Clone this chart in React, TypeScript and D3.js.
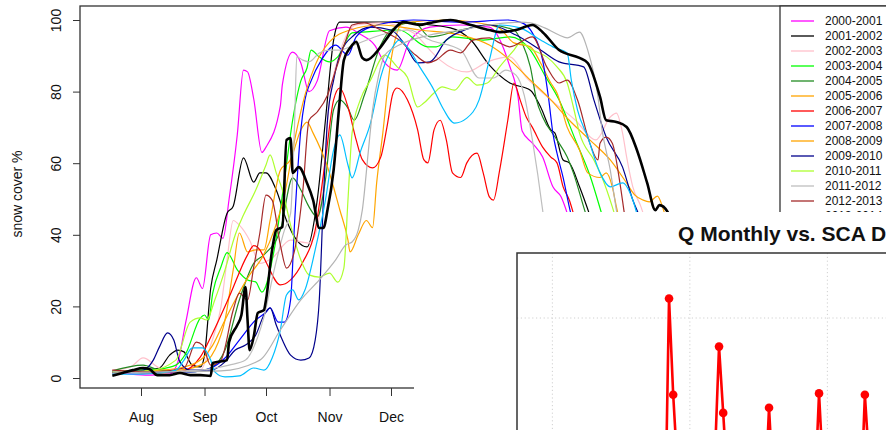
import React, { useEffect, useRef } from "react";
import * as d3 from "d3";

// legend entries (one per season)
const seasons = [
  "2000-2001", "2001-2002", "2002-2003", "2003-2004", "2004-2005",
  "2005-2006", "2006-2007", "2007-2008", "2008-2009", "2009-2010",
  "2010-2011", "2011-2012", "2012-2013", "2013-2014", "2014-2015", "2015-2016",
];
const seasonColors = [
  "#FF00FF", "#000000", "#FFC0CB", "#00FF00", "#228B22",
  "#FFA500", "#FF0000", "#0000FF", "#FFA500", "#00008B",
  "#ADFF2F", "#BEBEBE", "#A52A2A", "#00BFFF", "#B4B4B4", "#000000",
];
// only the first rows of the legend are visible above the inset
const legendRows = 14;

// snow cover %, [days since 1 Aug, value]
const sc2000 = [[-14,1.7],[-5,1.1],[4,0.8],[14,1.1],[18,4.5],[22,16],[27,28],[30,25],[34,40],[37,40.5],[40,39],[43,50],[47,68],[50,86],[52,85.5],[55,78],[59,63],[61,64.5],[68,76],[69,82],[74,91],[78,88],[82,80],[86,83],[92,97],[100,98],[107,96],[114,93],[119,88],[125,86],[131,94],[141,98],[156,98.6],[170,98],[180,87],[184,78.5],[186,69],[191,65.6],[196,61.7],[201,53.4],[205,50.6],[208,46],[214,33],[224,10.6],[234,2]];
const sc2001 = [[-14,1.7],[0,2.2],[9,2.8],[14,6.4],[18,7.8],[21,7.3],[25,3.6],[29,3.1],[31,6.4],[34,25],[37,33],[42,46],[45,48],[50,61.5],[55,54.7],[58,57.3],[61,57.3],[66,52.5],[71,44],[76,38.5],[81,36.6],[86,49.7],[90,72],[94,94.4],[97,99.4],[107,99.4],[122,99.4],[136,98.9],[151,97.8],[161,94.4],[170,87.4],[180,82.4],[190,80.4],[195,75.7],[200,69.3],[202,68.4],[206,60.9],[209,60.1],[214,53.4],[219,45.5],[229,27.4],[239,7.8],[248,1.7]];
const sc2002 = [[-14,2.2],[-5,3.1],[1,5.6],[9,2.8],[19,1.7],[29,2.2],[34,9.2],[39,19.8],[42,33],[45,44],[48,42.7],[53,38.5],[58,32],[64,33.5],[73,38.5],[82,37.7],[85,40],[88,49.7],[92,77.7],[97,90.8],[105,98.6],[117,99.2],[133,96.4],[141,91.6],[146,88.8],[159,85.5],[169,88.3],[180,89.7],[188,84],[200,77.7],[212,72],[222,66.5],[229,72.9],[232,74],[235,68.4],[237,61.7],[240,53.4],[244,47.8],[251,33],[258,13.4],[268,2.2]];
const sc2003 = [[-14,1.7],[0,2.2],[9,2.5],[17,3.6],[22,7],[29,16.8],[31,17.6],[33,16.2],[35,23.7],[39,31],[42,35],[47,30.2],[52,27.4],[56,26.8],[59,24],[65,35.8],[70,55.3],[74,72],[78,83],[81,86.6],[83,91.6],[87,89.7],[92,88.3],[96,89.7],[103,96.4],[108,96.6],[126,97.2],[140,92.5],[144,92.5],[152,95.3],[167,94.4],[180,95.3],[190,91.6],[197,84.6],[204,77.7],[212,66.5],[219,56.7],[225,45.5],[234,27.4],[244,7.8],[253,1.7]];
const sc2004 = [[-14,2],[1,3.6],[9,2.2],[24,1.7],[34,2.8],[41,7.8],[48,21.8],[55,32],[60,34.4],[68,41.3],[74,55.9],[78,52.5],[82,47.8],[86,45],[90,55.3],[94,75],[97,77.7],[101,75.4],[104,72],[109,79],[117,93],[122,97.2],[133,99.4],[141,95.3],[156,97.2],[170,98.6],[182,97.2],[186,93.6],[190,86.9],[193,77.7],[196,72.9],[203,66.5],[208,61.7],[211,57.3],[216,47.8],[224,33],[234,13.4],[244,2.2]];
const sc2005 = [[-14,1.4],[4,1.7],[19,2.2],[29,3.6],[36,7.8],[41,16.2],[45,30.2],[48,40.5],[52,35.2],[56,35.8],[60,35.8],[63,44],[68,58],[73,61],[78,69.3],[81,71.5],[84,68.4],[91,59],[97,47],[101,38.5],[102,35.2],[106,40],[110,44],[113,42],[115,54.5],[118,68.4],[122,88.8],[128,99.2],[149,100],[174,98],[182,93.6],[190,92.5],[195,88],[200,82.4],[203,79.6],[208,70],[214,63.7],[218,57.3],[224,56],[227,57.3],[230,53.4],[232,47.8],[236,38.5],[244,21.8],[253,5]];
const sc2006 = [[-14,1.7],[4,1.4],[19,1.7],[29,5.9],[35,12.6],[43,22.6],[52,34.4],[55,37],[58,35.8],[61,32.4],[68,26],[73,27.4],[79,32.4],[85,41.3],[90,61],[94,77.7],[97,81],[101,75.7],[105,66.5],[108,61],[113,58.7],[117,61.7],[120,70],[123,79.6],[125,81],[130,77.7],[135,69.3],[138,61],[140,60.1],[143,69.3],[146,72],[149,66.5],[152,57.3],[156,56],[159,60.1],[164,62.8],[167,57.3],[170,50.6],[172,49.7],[175,58],[179,72],[182,82.4],[185,77.7],[188,72.9],[191,70],[196,64.5],[200,61.7],[203,60.1],[206,53.4],[209,49.7],[211,46],[217,33],[224,13.4],[234,2.2]];
const sc2007 = [[-14,1.4],[4,1.7],[24,1.7],[34,2.8],[41,5.6],[48,10.6],[56,16.2],[61,18.4],[63,19.6],[67,15.6],[70,15.6],[73,21.8],[75,44],[78,69.3],[80,77.7],[83,83],[88,88.8],[95,93],[101,90.2],[105,95.3],[112,98],[133,100],[156,99.4],[179,100],[186,99.2],[191,96.4],[196,88.8],[199,77.7],[201,68.4],[203,62.8],[206,56],[209,47.8],[214,35.8],[222,16.2],[229,3.6]];
const sc2008 = [[-14,1.7],[4,2],[19,2.8],[29,5],[35,9.2],[41,16.2],[46,21.8],[53,28.8],[59,33.5],[65,41.3],[70,51.1],[75,66.5],[80,79],[85,87.4],[92,93.9],[102,97.2],[117,98.6],[136,97.2],[156,95.8],[170,93],[180,88.8],[190,83.2],[200,77.7],[209,72],[219,66.5],[229,60.9],[236,55.3],[241,51.1],[245,49.7],[248,49.2],[252,50.8],[255,46.9],[261,33],[268,13.4],[278,2.2]];
const sc2009 = [[-14,1.7],[0,2],[6,5],[9,8.7],[13,12.6],[16,10.6],[19,4.5],[24,2.2],[34,2.2],[41,4.5],[46,7.8],[51,9.2],[56,12],[60,17.6],[63,19.6],[66,14.8],[69,10.6],[73,6.4],[78,5],[82,5.6],[85,10.6],[87,21.8],[89,49.7],[91,72],[94,83.2],[97,90.2],[104,95.8],[112,98],[122,97.2],[129,93],[135,88],[141,88.3],[149,94.4],[158,97.2],[170,98.6],[183,95.8],[195,91.6],[204,88.3],[216,86.9],[221,77.7],[227,67.3],[235,58.9],[240,49.7],[244,44],[251,27.4],[258,10.6],[268,1.7]];
const sc2010 = [[-14,1.7],[4,2],[17,5],[24,15.6],[29,16.8],[32,16.2],[36,21.8],[41,30.2],[46,40],[50,45.5],[56,52.5],[61,59.5],[63,62.3],[66,57.3],[69,52.5],[73,42.7],[78,33],[82,28.8],[87,28.2],[92,29.3],[96,26.8],[99,30.7],[101,49.7],[103,68.4],[107,77.7],[112,83.2],[119,90.2],[125,86.9],[130,84],[135,75.7],[138,76.8],[143,79.6],[147,81.3],[153,80.4],[159,84],[164,81.8],[169,82.4],[175,86.9],[182,91.6],[185,93.6],[191,91.6],[198,89.7],[203,86.9],[208,82.4],[211,75.7],[214,68.4],[221,60.9],[225,56],[230,47.8],[236,35.8],[244,19],[253,3.6]];
const sc2011 = [[-14,2],[4,1.7],[29,2.2],[43,3.6],[51,5],[57,11.5],[60,17],[65,30.2],[70,41.3],[73,46],[75,72],[76,89.7],[79,88.8],[82,88.3],[87,90.8],[92,91.6],[97,91.6],[104,93],[117,95.8],[131,97.2],[141,94.4],[156,91.6],[165,83.8],[172,83.8],[178,86],[183,84.6],[187,79],[191,66.5],[196,46.9],[200,27.4],[204,10.6],[212,1.7]];
const sc2012 = [[-14,2.2],[4,1.7],[21,2.8],[27,10],[30,9.2],[34,3.6],[39,5],[45,19],[48,23.7],[52,21.8],[55,31],[58,40.5],[61,51.1],[64,49.7],[68,37.2],[71,30.7],[75,35.8],[79,52.5],[82,72],[86,74.3],[91,79],[95,86],[100,94.4],[103,98.6],[109,99.2],[117,97.2],[126,94.4],[134,90.2],[140,88],[144,88.8],[151,91.6],[156,90.8],[162,94.4],[170,95],[175,93.6],[180,92.5],[191,95.3],[198,86.9],[204,82.4],[208,83.2],[213,77.7],[219,65.6],[223,60.9],[224,65.6],[227,67.3],[230,65.6],[234,53.4],[236,45.5],[244,24.6],[253,5]];
const sc2013 = [[-14,1.1],[0,1.1],[9,1.4],[17,2.2],[21,5],[25,8.4],[30,8.4],[34,5],[36,1.7],[41,0.3],[48,0.6],[55,2.8],[60,2.2],[64,5.6],[68,13.4],[71,23.2],[74,24.6],[77,21.8],[80,24.6],[85,35.8],[90,49.7],[94,63.7],[97,67.9],[101,59.5],[103,55.9],[107,63.1],[112,71.2],[117,84.1],[122,91.6],[126,94.4],[131,91.6],[136,86.9],[143,80.4],[147,75.7],[153,71.2],[159,72.6],[165,77.7],[170,88.8],[175,98.6],[185,97.8],[195,94.4],[201,92.5],[208,90.8],[210,83.2],[213,74.9],[218,67.3],[224,57.3],[229,53.4],[235,54.5],[240,49.7],[244,41.3],[251,21.8],[258,5]];
const sc2014 = [[-14,1.4],[9,1.7],[39,2],[58,5],[68,13.4],[78,21.8],[87,27.4],[95,33],[100,37.2],[103,38],[106,41.3],[108,46.9],[111,63.7],[113,74.9],[116,84.6],[119,90.2],[126,93],[141,95.8],[156,97.2],[170,98.6],[185,99.4],[190,99.2],[197,97.8],[204,95.8],[208,95],[214,96.6],[218,91.6],[223,78.5],[225,69.3],[229,58.1],[232,46.9],[236,35.8],[244,16.2],[253,2.2]];
const sc2015 = [[-14,0.6],[-9,1.4],[-4,2.2],[1,2.8],[4,2.5],[8,0.8],[14,0.8],[19,1.4],[24,0.8],[29,0.8],[34,0.6],[35,4.2],[42,5],[43,10.1],[47,14.8],[49,17.6],[51,25.4],[52,16.2],[53,7.8],[55,11.5],[57,18.2],[60,19],[61,21.8],[64,35.8],[66,41.3],[69,42.2],[71,66.5],[73,67],[74,57.3],[77,58.9],[81,54.5],[84,49.7],[87,41.9],[89,41.9],[91,46.9],[94,58.1],[97,77.7],[99,88.8],[102,92.2],[105,93.9],[108,89.4],[110,88.8],[117,92.5],[122,96.4],[128,99.4],[136,98.6],[141,99.2],[151,100],[161,98.6],[170,97.2],[175,96.6],[183,97.2],[191,98.6],[196,96.6],[204,91.6],[214,89.4],[218,88],[224,78.5],[227,72],[232,71.5],[237,70.1],[242,63.7],[247,54.5],[251,46.9],[253,48.3],[257,46.4],[263,33],[273,13.4],[283,2.2]];

const snowSeries = [sc2000, sc2001, sc2002, sc2003, sc2004, sc2005, sc2006, sc2007,
  sc2008, sc2009, sc2010, sc2011, sc2012, sc2013, sc2014, sc2015] as [number, number][][];

const yTicks = [0, 20, 40, 60, 80, 100];
const monthLabels = ["Aug", "Sep", "Oct", "Nov", "Dec"];

// inset: monthly Q, starting Jan 2003 (month index 36 from Jan 2000)
const qStartMonth = 36;
const qValues = [
  22, 20, 21, 28, 30, 215, 141, 85, 45, 32, 26, 23,
  21, 20, 22, 35, 92, 178, 127, 74, 42, 30, 25, 22,
  21, 20, 24, 38, 60, 131, 70, 50, 36, 28, 24, 22,
  21, 20, 23, 40, 65, 142, 80, 52, 38, 29, 25, 22,
  21, 20, 25, 55, 141, 90, 60, 45, 34, 28, 24, 22,
];
const qGridMonths = [13, 46, 79];
const qGridValues = [100, 200];

const FONT = "Liberation Sans, Arial, Helvetica, sans-serif";

const App = () => {
  const ref = useRef<SVGSVGElement>(null);

  useEffect(() => {
    drawChart();
  }, []);

  const drawChart = () => {
    const svg = d3.select(ref.current);
    svg.selectAll("*").remove();

    const base = Date.UTC(2000, 7, 1);
    const toDate = (d: number) => new Date(base + d * 864e5);

    const x = d3.scaleTime()
      .domain([new Date(Date.UTC(2000, 7, 1)), new Date(Date.UTC(2000, 11, 1))])
      .range([141, 391]);
    const y = d3.scaleLinear().domain([0, 100]).range([378, 20]);

    const line = d3.line<[number, number]>()
      .x(d => x(toDate(d[0])))
      .y(d => y(d[1]))
      .curve(d3.curveMonotoneX);

    const defs = svg.append("defs");
    defs.append("clipPath").attr("id", "legendClip")
      .append("rect").attr("x", 770).attr("y", 0).attr("width", 130).attr("height", 212);
    defs.append("clipPath").attr("id", "insetClip")
      .append("rect").attr("x", 517).attr("y", 253).attr("width", 380).attr("height", 190);

    // snow cover lines
    const lines = svg.append("g");
    snowSeries.forEach((s, i) => {
      lines.append("path")
        .attr("d", line(s))
        .attr("fill", "none")
        .attr("stroke", seasonColors[i])
        .attr("stroke-width", i === snowSeries.length - 1 ? 2.6 : 1.2)
        .attr("stroke-linejoin", "round");
    });

    // frame
    svg.append("rect")
      .attr("x", 80).attr("y", 6)
      .attr("width", 900).attr("height", 382)
      .attr("fill", "none").attr("stroke", "#333").attr("stroke-width", 1.3);

    // y axis
    const yAxis = svg.append("g")
      .attr("transform", "translate(80,0)")
      .call(d3.axisLeft(y).tickValues(yTicks).tickSize(7));
    yAxis.select(".domain").remove();
    yAxis.selectAll("line").attr("stroke", "#333");
    yAxis.selectAll("text")
      .attr("x", null).attr("dy", null)
      .attr("transform", "translate(-19,0) rotate(-90)")
      .attr("text-anchor", "middle")
      .attr("font-size", 14).attr("font-family", FONT).attr("fill", "#111");

    svg.append("text")
      .attr("transform", "translate(22,194) rotate(-90)")
      .attr("text-anchor", "middle")
      .attr("font-size", 14).attr("font-family", FONT).attr("fill", "#111")
      .text("snow cover %");

    // x axis
    const monthDates = monthLabels.map((_, i) => new Date(Date.UTC(2000, 7 + i, 1)));
    const xAxis = svg.append("g")
      .attr("transform", "translate(0,388)")
      .call(d3.axisBottom(x).tickValues(monthDates).tickSize(8).tickPadding(16)
        .tickFormat((_, i) => monthLabels[i]));
    xAxis.select(".domain").remove();
    xAxis.selectAll("line").attr("stroke", "#333");
    xAxis.selectAll("text")
      .attr("font-size", 14).attr("font-family", FONT).attr("fill", "#111");

    // legend (cut by the inset below it)
    const legend = svg.append("g").attr("clip-path", "url(#legendClip)");
    legend.append("rect")
      .attr("x", 780).attr("y", 6).attr("width", 120).attr("height", 260)
      .attr("fill", "white").attr("stroke", "#333").attr("stroke-width", 1.3);
    seasons.slice(0, legendRows).forEach((s, i) => {
      const ly = 21 + 15 * i;
      legend.append("line")
        .attr("x1", 791).attr("x2", 814).attr("y1", ly).attr("y2", ly)
        .attr("stroke", seasonColors[i])
        .attr("stroke-width", 1.3);
      legend.append("text")
        .attr("x", 825).attr("y", ly).attr("dy", "0.36em")
        .attr("font-size", 12).attr("font-family", FONT).attr("fill", "#111")
        .text(s);
    });

    // inset panel on top
    const inset = svg.append("g");
    inset.append("rect")
      .attr("x", 414).attr("y", 212).attr("width", 480).attr("height", 230)
      .attr("fill", "white");

    inset.append("text")
      .attr("x", 678).attr("y", 241)
      .attr("font-size", 21).attr("font-weight", "bold").attr("font-family", FONT)
      .attr("fill", "#111")
      .text("Q Monthly vs. SCA Daily");

    const xq = d3.scaleLinear().domain([0, 12]).range([498.2, 548.2]);
    const yq = d3.scaleLinear().domain([0, 250]).range([578, 253]);

    const plot = inset.append("g").attr("clip-path", "url(#insetClip)");
    qGridMonths.forEach(m => {
      plot.append("line")
        .attr("x1", xq(m)).attr("x2", xq(m)).attr("y1", 253).attr("y2", 440)
        .attr("stroke", "#d0d0d0").attr("stroke-dasharray", "1.2,2.6");
    });
    qGridValues.forEach(v => {
      plot.append("line")
        .attr("x1", 517).attr("x2", 890).attr("y1", yq(v)).attr("y2", yq(v))
        .attr("stroke", "#d0d0d0").attr("stroke-dasharray", "1.2,2.6");
    });

    const qData = qValues.map((v, i) => [qStartMonth + i, v] as [number, number]);
    const qLine = d3.line<[number, number]>().x(d => xq(d[0])).y(d => yq(d[1]));
    plot.append("path")
      .attr("d", qLine(qData))
      .attr("fill", "none").attr("stroke", "#FF0000").attr("stroke-width", 2.6)
      .attr("stroke-linejoin", "round");
    plot.selectAll(".pt")
      .data(qData)
      .enter().append("circle")
      .attr("class", "pt")
      .attr("cx", d => xq(d[0])).attr("cy", d => yq(d[1]))
      .attr("r", 4.3).attr("fill", "#FF0000");

    inset.append("path")
      .attr("d", "M517,440 L517,253 L890,253")
      .attr("fill", "none").attr("stroke", "#333").attr("stroke-width", 1.5);
  };

  return (
    <svg ref={ref} width={886} height={430}
      style={{ position: "absolute", left: 0, top: 0, background: "white" }} />
  );
};

export default App;
